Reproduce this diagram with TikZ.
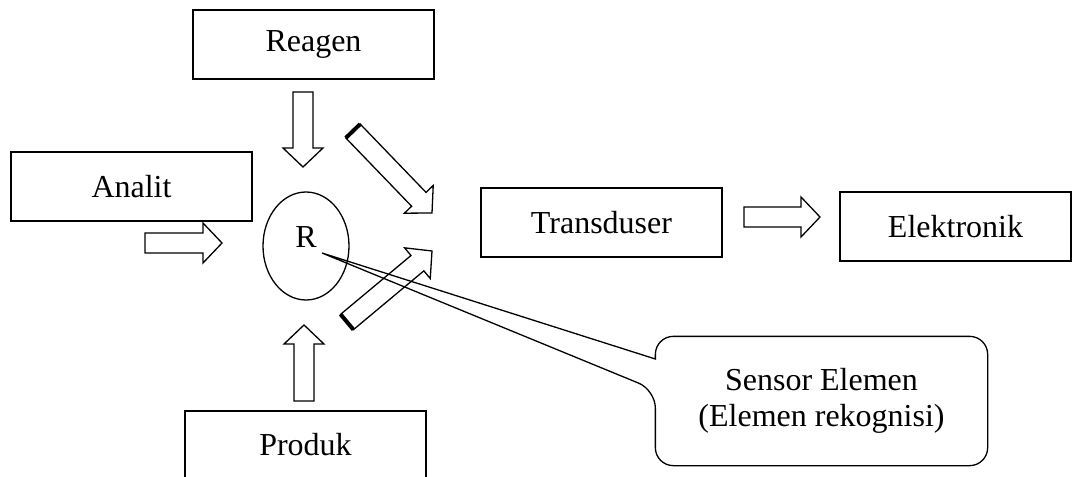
\documentclass[tikz,border=0pt]{standalone}
\usepackage{fontspec}
\setmainfont{Liberation Serif}
\usetikzlibrary{calc,shapes.geometric}

\newcommand{\fatshaft}{10pt}
\newcommand{\fatwing}{20pt}
\newcommand{\fathead}{19pt}
\newcommand{\fatarrow}[3]{%
  \coordinate (#1_m) at ($(#3)!\fathead!(#2)$);
  \coordinate (#1_a) at ($(#2)!\fatshaft!90:(#3)$);
  \coordinate (#1_b) at ($(#2)!\fatshaft!-90:(#3)$);
  \draw[fatline] (#1_a) -- ($(#1_m)!\fatshaft!90:(#3)$) -- ($(#1_m)!\fatwing!90:(#3)$) -- (#3)
    -- ($(#1_m)!\fatwing!-90:(#3)$) -- ($(#1_m)!\fatshaft!-90:(#3)$) -- (#1_b) -- cycle;
}

\begin{document}
\begin{tikzpicture}[x=1pt, y=-1pt, line width=1.3pt,
  box/.style = {draw, minimum width=241pt, minimum height=69pt, inner sep=0pt, font=\fontsize{32}{37}\selectfont},
  fatline/.style = {draw, fill=white, line join=miter},
  tailcap/.style = {line width=4pt}]
\useasboundingbox (0, 0) rectangle (1075, 476);

\node[box] (reagen) at (313.5, 44.5) { Reagen };
\node[box] (analit) at (131.5, 186.5) { Analit };
\node[box] (transduser) at (601.5, 222.5) { Transduser };
\node[box, minimum width=231pt] (elektronik) at (955.5, 226.5) { Elektronik };
\node[box, minimum height=68pt] (produk) at (305.5, 445) { Produk };
\node[draw, ellipse, minimum width=86pt, minimum height=108pt, inner sep=0pt] (recog) at (306, 246) {};
\node[font=\fontsize{32}{37}\selectfont, inner sep=0pt] (r_label) at (306, 237) { R };
\node[font=\fontsize{32}{36}\selectfont, align=center, minimum width=331pt, minimum height=128pt, inner sep=0pt] (sensor) at (821.5, 401) { Sensor Elemen\\(Elemen rekognisi) };

\coordinate (reagen_out) at (303, 92);
\coordinate (reagen_in) at (303, 167);
\coordinate (analit_out) at (145, 243);
\coordinate (analit_in) at (222, 243);
\coordinate (produk_out) at (304, 401);
\coordinate (produk_in) at (304, 325);
\coordinate (top_out) at (353, 131);
\coordinate (top_in) at (432, 213);
\coordinate (low_out) at (347, 322);
\coordinate (low_in) at (432, 251);
\coordinate (trans_out) at (744, 217);
\coordinate (trans_in) at (820, 217);
\coordinate (sensor_tip) at (322, 253);

\fatarrow{reagen_arr}{reagen_out}{reagen_in}
\fatarrow{analit_arr}{analit_out}{analit_in}
\fatarrow{produk_arr}{produk_out}{produk_in}
\fatarrow{top_arr}{top_out}{top_in}
\fatarrow{low_arr}{low_out}{low_in}
\fatarrow{trans_arr}{trans_out}{trans_in}
\draw[tailcap] (top_arr_a) -- (top_arr_b);
\draw[tailcap] (low_arr_a) -- (low_arr_b);

\draw (sensor_tip) -- ($(sensor.west)+(0,-42)$) [rounded corners=18pt] |- (sensor.north east) |- (sensor.south west)
  -- ($(sensor.west)+(0,-11)$) [sharp corners] -- cycle;
\end{tikzpicture}
\end{document}
